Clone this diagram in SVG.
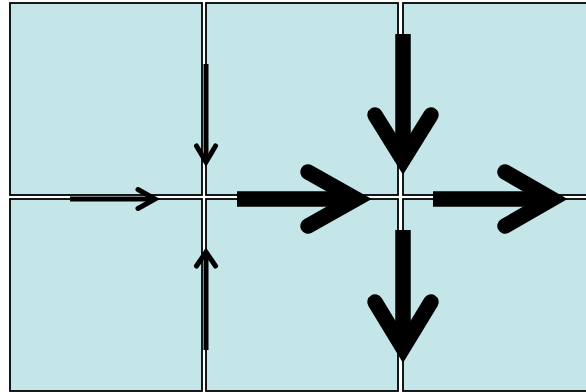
<svg xmlns="http://www.w3.org/2000/svg" width="586" height="392" viewBox="0 0 586 392">
<style>
.cell{fill:#c4e6e8;stroke:#000;stroke-width:1.8}
.shaft{fill:none;stroke:#000;stroke-linecap:butt}
.head{fill:none;stroke:#000;stroke-linecap:round;stroke-linejoin:miter;stroke-miterlimit:10}
.s{stroke-width:5}
.b{stroke-width:15.5}
</style>
<rect width="586" height="392" fill="#fff"/>
<g id="cell-r1c1"><rect class="cell" x="10" y="3" width="192" height="192"/></g>
<g id="cell-r1c2"><rect class="cell" x="206" y="3" width="192" height="192"/></g>
<g id="cell-r1c3"><rect class="cell" x="403" y="3" width="192" height="192"/></g>
<g id="cell-r2c1"><rect class="cell" x="10" y="199" width="192" height="192"/></g>
<g id="cell-r2c2"><rect class="cell" x="206" y="199" width="192" height="192"/></g>
<g id="cell-r2c3"><rect class="cell" x="403" y="199" width="192" height="192"/></g>
<g id="connectors">
  <!-- small down -->
  <path class="shaft s" d="M206 64 V160"/>
  <path class="head s" d="M196.5 146 L206 162 L215.5 146"/>
  <!-- small right -->
  <path class="shaft s" d="M70 199 H152"/>
  <path class="head s" d="M138 189.5 L155 199 L138 208.5"/>
  <!-- small up -->
  <path class="shaft s" d="M206 350 V254"/>
  <path class="head s" d="M196.5 266 L206 252 L215.5 266"/>
  <!-- big right center -->
  <path class="shaft b" d="M237 199 H350"/>
  <path class="head b" d="M308 172 L356 199 L308 226"/>
  <!-- big down top -->
  <path class="shaft b" d="M403 34 V155"/>
  <path class="head b" d="M375 115 L403 160 L431 115"/>
  <!-- big right right -->
  <path class="shaft b" d="M433 199 H546"/>
  <path class="head b" d="M505 172 L552 199 L505 226"/>
  <!-- big down bottom -->
  <path class="shaft b" d="M403 230 V343"/>
  <path class="head b" d="M375 302 L403 348 L431 302"/>
</g>
</svg>
